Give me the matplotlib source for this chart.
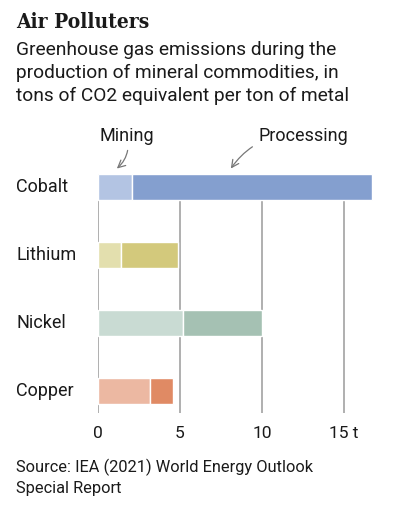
import matplotlib
matplotlib.use("Agg")
import matplotlib.pyplot as plt
import matplotlib.transforms as mtransforms

# data (t CO2-eq per t of metal)
metals     = ["Cobalt", "Lithium", "Nickel", "Copper"]
mining     = [2.1, 1.4, 5.2, 3.2]
processing = [14.6, 3.5, 4.8, 1.4]
xticks      = [0, 5, 10, 15]
xticklabels = ["0", "5", "10", "15 t"]

MINE_COLORS = ["#b3c4e3", "#e3dfae", "#c9dbd3", "#ecb8a2"]
PROC_COLORS = ["#849fcf", "#d3c97c", "#a5c1b3", "#e08a64"]
TXT  = "#1a1a1a"
FONT = "Roboto"

W, H = 396, 508
fig = plt.figure(figsize=(W / 100, H / 100), dpi=100, facecolor="white")

def px(x, y):
    return x / W, 1 - y / H

# header
fig.text(*px(16, 22), "Air Polluters", fontsize=15, fontweight="bold",
         family="DejaVu Serif", fontstretch="condensed", color=TXT, va="center")
for i, line in enumerate(["Greenhouse gas emissions during the",
                          "production of mineral commodities, in",
                          "tons of CO2 equivalent per ton of metal"]):
    fig.text(*px(16, 50 + 23 * i), line, fontsize=13.8, family=FONT,
             color=TXT, va="center")

# axes: x=0 at 98 px, 16.4 px per unit
left, right = 98, 380
top, bottom = 174, 413
ax = fig.add_axes([left / W, 1 - bottom / H, (right - left) / W, (bottom - top) / H])
ax.set_xlim(0, (right - left) / 16.4)
ax.set_ylim(3.32, -0.19)

for x in xticks:
    ax.axvline(x, color="#9a9a9a", lw=1.1, zorder=0)

ypos = list(range(len(metals)))
ax.barh(ypos, mining, height=0.38, color=MINE_COLORS, edgecolor="white",
        linewidth=1, zorder=2)
ax.barh(ypos, processing, left=mining, height=0.38, color=PROC_COLORS,
        edgecolor="white", linewidth=1, zorder=2)

for s in ax.spines.values():
    s.set_visible(False)
ax.set_yticks([])
ax.set_xticks(xticks)
ax.set_xticklabels(xticklabels, fontsize=12.5, family=FONT, color=TXT)
ax.tick_params(axis="x", length=0, pad=9)

trans = mtransforms.blended_transform_factory(fig.transFigure, ax.transData)
for y, name in zip(ypos, metals):
    fig.text(16 / W, y, name, transform=trans, fontsize=13, family=FONT,
             color=TXT, va="center")

# annotations for the legend
ax.annotate("Mining", xy=(1.15, -0.27), xytext=(0.1, -0.75),
            fontsize=13, family=FONT, color=TXT, va="center",
            annotation_clip=False,
            arrowprops=dict(arrowstyle="->", color="#777777", lw=0.9,
                            shrinkA=2, shrinkB=0,
                            connectionstyle="arc3,rad=-0.3"))
ax.annotate("Processing", xy=(8.1, -0.27), xytext=(9.8, -0.75),
            fontsize=13, family=FONT, color=TXT, va="center",
            annotation_clip=False,
            arrowprops=dict(arrowstyle="->", color="#777777", lw=0.9,
                            shrinkA=3, shrinkB=0,
                            connectionstyle="arc3,rad=0.3"))

fig.text(*px(16, 467), "Source: IEA (2021) World Energy Outlook", fontsize=11.8,
         family=FONT, color=TXT, va="center")
fig.text(*px(16, 489), "Special Report", fontsize=11.8, family=FONT,
         color=TXT, va="center")

fig.savefig("out.png", dpi=100, facecolor="white")
